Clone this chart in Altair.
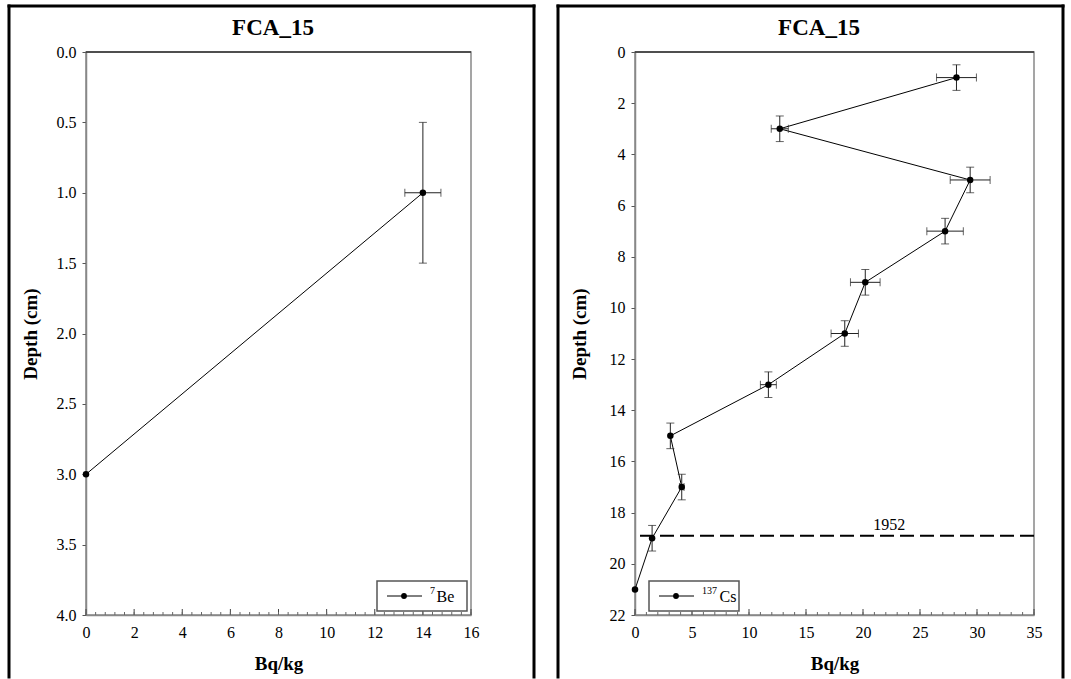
import altair as alt
import pandas as pd

# ---------------- data ----------------
core_name = "FCA_15"

be_depth = [1.0, 3.0]
be_bq = [14.0, 0.0]
be_xerr = [0.75, 0.0]
be_yerr = [0.5, 0.0]

cs_depth = [1, 3, 5, 7, 9, 11, 13, 15, 17, 19, 21]
cs_bq = [28.2, 12.7, 29.4, 27.2, 20.2, 18.4, 11.7, 3.1, 4.1, 1.5, 0.0]
cs_xerr = [1.75, 0.75, 1.75, 1.6, 1.3, 1.2, 0.7, 0.0, 0.2, 0.0, 0.0]
cs_yerr = [0.5, 0.5, 0.5, 0.5, 0.5, 0.5, 0.5, 0.5, 0.5, 0.5, 0.0]

be_yticks = [0.0, 0.5, 1.0, 1.5, 2.0, 2.5, 3.0, 3.5, 4.0]
be_xticks = [0, 2, 4, 6, 8, 10, 12, 14, 16]
be_xminor = [0.4 * i for i in range(41)]
cs_yticks = [0, 2, 4, 6, 8, 10, 12, 14, 16, 18, 20, 22]
cs_xticks = [0, 5, 10, 15, 20, 25, 30, 35]
cs_xminor = list(range(36))

marker_label = "1952"
marker_depth = 18.9
marker_label_bq = 22.3

FONT = "Liberation Serif"
H = 563


def one():
    return pd.DataFrame({"k": [0]})


def panel(depth, bq, xerr, yerr, xdom, ydom, xticks, yticks, xminor, yfmt,
          w, legend_main, legend_sup, legend_left, frame_l, frame_r, title_x,
          marker=False):
    df = pd.DataFrame({"depth": depth, "bq": bq, "xerr": xerr, "yerr": yerr})

    xscale = alt.Scale(domain=xdom, nice=False, zero=False)
    yscale = alt.Scale(domain=ydom, reverse=True, nice=False, zero=False)
    xaxis = alt.Axis(values=xticks, title="Bq/kg", tickSize=0, labelPadding=9,
                     titleY=48, titleBaseline="middle", labelFlush=False, grid=False)
    yaxis = alt.Axis(values=yticks, format=yfmt, title="Depth (cm)", tickSize=4,
                     labelPadding=6, titleX=-46, titleY=H / 2, labelFlush=False,
                     grid=False)

    def X(f):
        return alt.X(f, type="quantitative", scale=xscale, axis=xaxis)

    def Y(f):
        return alt.Y(f, type="quantitative", scale=yscale, axis=yaxis)

    base = alt.Chart(df)
    line = base.mark_line(color="black", strokeWidth=1).encode(
        x=X("bq"), y=Y("depth"), order=alt.Order("depth:Q"))
    pts = base.mark_circle(size=42, color="black", opacity=1).encode(
        x=X("bq"), y=Y("depth"))

    xe = base.transform_filter("datum.xerr > 0").transform_calculate(
        lo="datum.bq - datum.xerr", hi="datum.bq + datum.xerr")
    xe_rule = xe.mark_rule(color="#222", strokeWidth=1).encode(
        x=X("lo:Q"), x2="hi:Q", y=Y("depth"))
    xe_caps = xe.transform_fold(["lo", "hi"], as_=["side", "xv"]).mark_tick(
        color="#222", orient="vertical", size=8, thickness=1).encode(
        x=X("xv:Q"), y=Y("depth"))

    ye = base.transform_filter("datum.yerr > 0").transform_calculate(
        lo="datum.depth - datum.yerr", hi="datum.depth + datum.yerr")
    ye_rule = ye.mark_rule(color="#222", strokeWidth=1).encode(
        x=X("bq"), y=Y("lo:Q"), y2="hi:Q")
    ye_caps = ye.transform_fold(["lo", "hi"], as_=["side", "yv"]).mark_tick(
        color="#222", orient="horizontal", size=8, thickness=1).encode(
        x=X("bq"), y=Y("yv:Q"))

    # inward x ticks
    major = alt.Chart(pd.DataFrame({"t": xticks})).mark_rule(
        color="#444", strokeWidth=1).encode(x=X("t:Q"), y=alt.value(H), y2=alt.value(H - 6))
    minor = alt.Chart(pd.DataFrame({"t": xminor})).mark_rule(
        color="#666", strokeWidth=1).encode(x=X("t:Q"), y=alt.value(H), y2=alt.value(H - 3))

    # darker top edge of the plot box
    topline = alt.Chart(one()).mark_rule(color="#333", strokeWidth=1.5).encode(
        x=alt.value(0), x2=alt.value(w), y=alt.value(0))

    layers = [line, xe_rule, xe_caps, ye_rule, ye_caps, pts, major, minor, topline]

    if marker:
        mdf = pd.DataFrame({"depth": [marker_depth], "bq": [marker_label_bq],
                            "label": [marker_label]})
        mline = alt.Chart(mdf).mark_rule(color="black", strokeWidth=2,
                                         strokeDash=[14, 6]).encode(y=Y("depth"))
        mtext = alt.Chart(mdf).mark_text(font=FONT, fontSize=16, baseline="bottom",
                                         dy=-3, color="black").encode(
            x=X("bq"), y=Y("depth"), text="label:N")
        layers += [mline, mtext]

    # legend
    lx = legend_left
    bw = 90
    by0, by1 = H - 34, H - 4
    cy = (by0 + by1) / 2
    box = alt.Chart(one()).mark_rect(fill="white", stroke="#555", strokeWidth=1.5).encode(
        x=alt.value(lx), x2=alt.value(lx + bw), y=alt.value(by0), y2=alt.value(by1))
    lline = alt.Chart(one()).mark_rule(color="black", strokeWidth=1).encode(
        x=alt.value(lx + 10), x2=alt.value(lx + 45), y=alt.value(cy))
    ldot = alt.Chart(one()).mark_circle(size=34, color="black", opacity=1).encode(
        x=alt.value(lx + 27), y=alt.value(cy))
    sup_w = 5.5 * len(legend_sup)
    lsup = alt.Chart(one()).mark_text(text=legend_sup, font=FONT, fontSize=10,
                                      align="left", baseline="middle", color="black").encode(
        x=alt.value(lx + 53), y=alt.value(cy - 5))
    lmain = alt.Chart(one()).mark_text(text=legend_main, font=FONT, fontSize=16,
                                       align="left", baseline="middle", color="black").encode(
        x=alt.value(lx + 54 + sup_w), y=alt.value(cy + 1))
    layers += [box, lline, ldot, lsup, lmain]

    # panel frame (no bottom edge: cut by the picture)
    top, bot = -46, 625
    fl = alt.Chart(one()).mark_rule(color="black", strokeWidth=3, strokeCap="square").encode(
        x=alt.value(frame_l), y=alt.value(top), y2=alt.value(bot))
    fr = alt.Chart(one()).mark_rule(color="black", strokeWidth=3, strokeCap="square").encode(
        x=alt.value(frame_r), y=alt.value(top), y2=alt.value(bot))
    ft = alt.Chart(one()).mark_rule(color="black", strokeWidth=3, strokeCap="square").encode(
        x=alt.value(frame_l), x2=alt.value(frame_r), y=alt.value(top))
    title = alt.Chart(one()).mark_text(text=core_name, font=FONT, fontSize=23,
                                       fontWeight="bold", color="black").encode(
        x=alt.value(title_x), y=alt.value(-24))
    layers += [fl, fr, ft, title]

    return alt.layer(*layers).properties(width=w, height=H)


left = panel(be_depth, be_bq, be_xerr, be_yerr, [0, 16], [0, 4], be_xticks,
             be_yticks, be_xminor, ".1f", 385, "Be", "7", 385 - 94,
             -77, 448, 187)
right = panel(cs_depth, cs_bq, cs_xerr, cs_yerr, [0, 35], [0, 22], cs_xticks,
              cs_yticks, cs_xminor, "d", 399, "Cs", "137", 14,
              -77, 428, 184, marker=True)

chart = alt.hconcat(left, right, spacing=164, bounds="flush").properties(
    padding={"left": 6, "top": 3, "right": 5, "bottom": 0},
    background="white",
).configure_view(stroke="#888", strokeWidth=1.5).configure_axis(
    grid=False, domainColor="#888", domainWidth=1.5, tickColor="#555",
    labelFont=FONT, labelFontSize=16, labelColor="black",
    titleFont=FONT, titleFontSize=19, titleFontWeight="bold", titleColor="black"
)

chart.save("out.html", embed_options={"renderer": "svg", "actions": False})
